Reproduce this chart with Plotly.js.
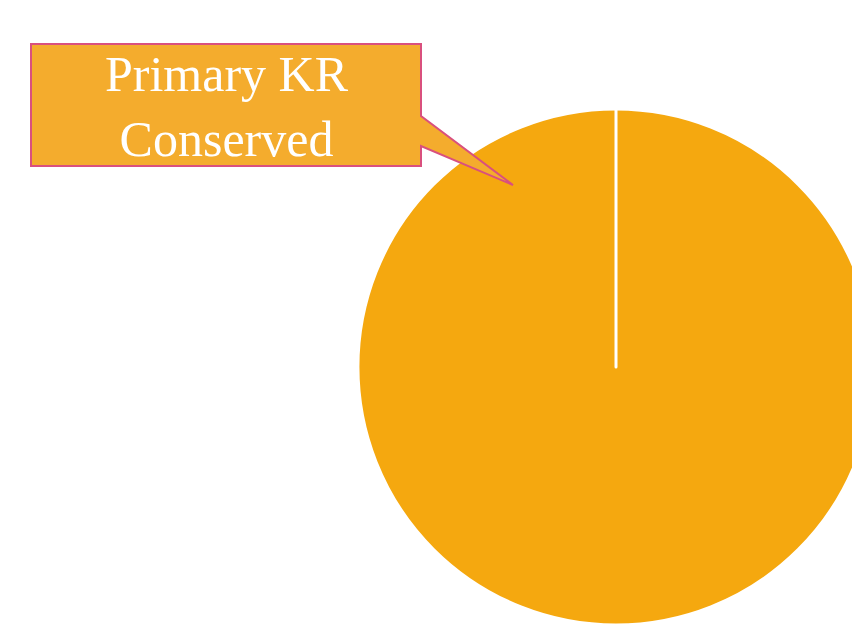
<!DOCTYPE html>
<html>
<head>
<meta charset="utf-8">
<script src="https://cdn.plot.ly/plotly-3.0.1.min.js"></script>
<style>
html, body { margin: 0; padding: 0; overflow: hidden; width: 852px; height: 632px; background: #fff; }
#chart { width: 1000px; height: 632px; }
</style>
</head>
<body>
<div id="chart"></div>
<script>
const categories = ["Primary KR Conserved", "Not Conserved"];
const values = [100, 0];
const calloutText = "Primary KR<br>Conserved";

const W = 1000, H = 632;
const px = x => x / W;
const py = y => 1 - y / H;

const calloutPath = [
  [31, 44], [421, 44], [421, 116], [513, 185], [421, 146], [421, 166], [31, 166]
].map((p, i) => (i ? 'L' : 'M') + px(p[0]).toFixed(4) + ',' + py(p[1]).toFixed(4)).join(' ') + ' Z';

const data = [{
  type: 'pie',
  labels: categories,
  values: values,
  sort: false,
  direction: 'clockwise',
  rotation: 0,
  textinfo: 'none',
  hoverinfo: 'label+percent',
  marker: { colors: ['#f5a80f', '#f5a80f'], line: { color: '#ffffff', width: 3 } },
  domain: { x: [0.358, 0.874], y: [0.0111, 0.8275] }
}];

const layout = {
  width: W, height: H,
  margin: { l: 0, r: 0, t: 0, b: 0 },
  showlegend: false,
  paper_bgcolor: '#ffffff',
  shapes: [{
    type: 'path', xref: 'paper', yref: 'paper',
    path: calloutPath,
    fillcolor: '#f4ac2d',
    line: { color: '#d9507e', width: 2 },
    layer: 'above'
  }],
  annotations: [{
    xref: 'paper', yref: 'paper',
    x: px(227), y: py(106),
    xanchor: 'center', yanchor: 'middle',
    showarrow: false,
    text: calloutText,
    font: { family: 'Liberation Serif, serif', size: 50, color: '#ffffff' }
  }]
};

Plotly.newPlot('chart', data, layout, { displayModeBar: false, staticPlot: true });
</script>
</body>
</html>
